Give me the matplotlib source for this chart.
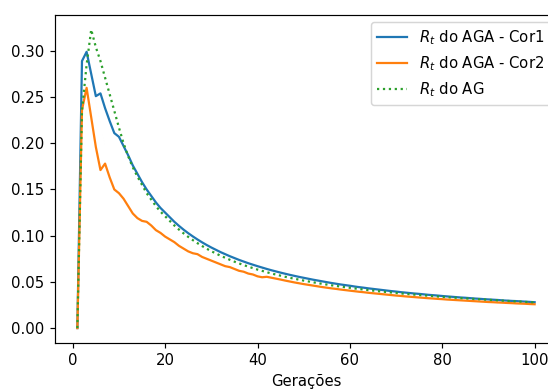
import matplotlib
matplotlib.use("Agg")
import matplotlib.pyplot as plt

geracoes = list(range(1, 101))

rt_aga_cor1 = [
    0.000, 0.289, 0.299, 0.275, 0.251, 0.254, 0.238, 0.224, 0.211, 0.207,
    0.197, 0.187, 0.176, 0.167, 0.158, 0.150, 0.143, 0.136, 0.130, 0.125,
    0.120, 0.115, 0.1106, 0.1065, 0.1027, 0.0992, 0.0959, 0.0928, 0.0899, 0.0872,
    0.0847, 0.0822, 0.0800, 0.0778, 0.0758, 0.0738, 0.0720, 0.0702, 0.0686, 0.0670,
    0.0655, 0.0640, 0.0626, 0.0613, 0.0600, 0.0588, 0.0576, 0.0565, 0.0554, 0.0544,
    0.0534, 0.0524, 0.0515, 0.0506, 0.0497, 0.0488, 0.0480, 0.0472, 0.0465, 0.0458,
    0.0450, 0.0443, 0.0437, 0.0430, 0.0424, 0.0418, 0.0412, 0.0406, 0.0400, 0.0395,
    0.0389, 0.0384, 0.0379, 0.0374, 0.0370, 0.0365, 0.0360, 0.0356, 0.0352, 0.0347,
    0.0343, 0.0339, 0.0335, 0.0331, 0.0328, 0.0324, 0.0320, 0.0317, 0.0313, 0.0310,
    0.0307, 0.0304, 0.0300, 0.0297, 0.0294, 0.0292, 0.0289, 0.0286, 0.0283, 0.0280,
]

rt_aga_cor2 = [
    0.000, 0.236, 0.260, 0.228, 0.196, 0.171, 0.178, 0.163, 0.150, 0.146,
    0.140, 0.132, 0.124, 0.119, 0.116, 0.115, 0.111, 0.106, 0.103, 0.099,
    0.096, 0.093, 0.089, 0.086, 0.083, 0.081, 0.080, 0.077, 0.075, 0.073,
    0.071, 0.069, 0.067, 0.066, 0.064, 0.062, 0.061, 0.059, 0.058, 0.056,
    0.055, 0.0555, 0.0545, 0.0535, 0.0525, 0.0514, 0.0504, 0.0494, 0.0485, 0.0476,
    0.0468, 0.0460, 0.0452, 0.0444, 0.0437, 0.0430, 0.0424, 0.0417, 0.0411, 0.0405,
    0.0399, 0.0393, 0.0388, 0.0382, 0.0377, 0.0372, 0.0367, 0.0362, 0.0357, 0.0352,
    0.0348, 0.0343, 0.0339, 0.0335, 0.0331, 0.0327, 0.0323, 0.0320, 0.0316, 0.0313,
    0.0309, 0.0306, 0.0303, 0.0300, 0.0297, 0.0294, 0.0291, 0.0288, 0.0285, 0.0282,
    0.0280, 0.0277, 0.0275, 0.0272, 0.0270, 0.0267, 0.0265, 0.0263, 0.0260, 0.0258,
]

rt_ag = [
    0.000, 0.235, 0.285, 0.323, 0.304, 0.289, 0.271, 0.253, 0.235, 0.217,
    0.200, 0.186, 0.174, 0.164, 0.155, 0.146, 0.139, 0.132, 0.126, 0.121,
    0.116, 0.111, 0.1066, 0.1025, 0.0987, 0.0952, 0.0919, 0.0888, 0.0859, 0.0832,
    0.0807, 0.0783, 0.0761, 0.0739, 0.0719, 0.0700, 0.0682, 0.0665, 0.0649, 0.0633,
    0.0619, 0.0605, 0.0591, 0.0579, 0.0567, 0.0555, 0.0544, 0.0534, 0.0524, 0.0514,
    0.0505, 0.0496, 0.0487, 0.0479, 0.0471, 0.0463, 0.0456, 0.0449, 0.0442, 0.0436,
    0.0429, 0.0423, 0.0417, 0.0411, 0.0406, 0.0400, 0.0395, 0.0390, 0.0385, 0.0380,
    0.0375, 0.0371, 0.0366, 0.0362, 0.0358, 0.0354, 0.0350, 0.0346, 0.0342, 0.0338,
    0.0335, 0.0331, 0.0328, 0.0324, 0.0321, 0.0318, 0.0315, 0.0312, 0.0309, 0.0306,
    0.0303, 0.0300, 0.0297, 0.0294, 0.0291, 0.0289, 0.0286, 0.0283, 0.0281, 0.0278,
]

dpi = 107
fig = plt.figure(figsize=(548 / dpi, 390 / dpi), dpi=dpi)
# axes run past the right edge of the saved image
ax = fig.add_axes([54.5 / 548, 1 - 343 / 390, 503 / 548, (343 - 14.7) / 390])

ax.plot(geracoes, rt_aga_cor1, label=r'$R_t$ do AGA - Cor1')
ax.plot(geracoes, rt_aga_cor2, label=r'$R_t$ do AGA - Cor2')
ax.plot(geracoes, rt_ag, ':', label=r'$R_t$ do AG')

ax.set_xlabel('Gerações')
ax.legend(loc='upper right')

fig.savefig('out.png', dpi=dpi)
